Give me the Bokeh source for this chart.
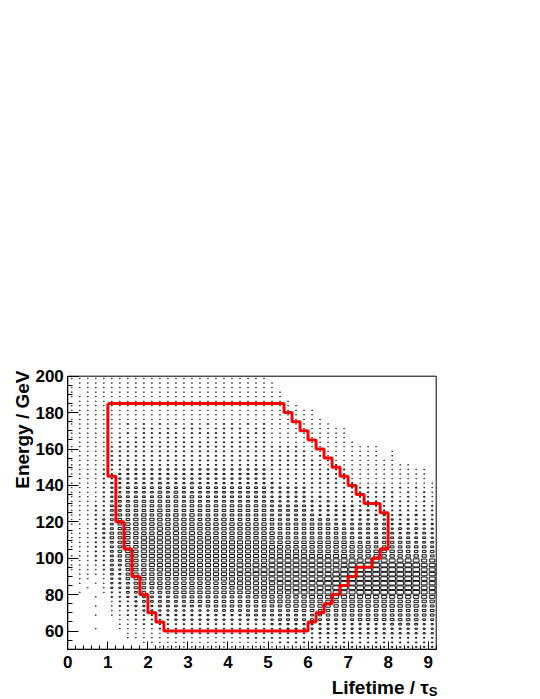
import math
from bokeh.plotting import figure
from bokeh.models import Range1d, FixedTicker, Label
from bokeh.embed import file_html
from bokeh.resources import INLINE

# ---------------- data ----------------
X_MIN, X_MAX, X_BINS = 0.0, 9.2, 46
Y_MIN, Y_MAX, Y_BINS = 50.0, 200.0, 60

# box-size level (0..9) per bin; rows from top (E~199 GeV) to bottom (E~51 GeV)
levels = [
    "1111111111 1111111111 1111100000 0000000000 000000",
    "0111111111 1111111111 1111110000 0000000000 000000",
    "1111111111 1111111111 1111110000 0000000000 000000",
    "1011111111 1111111111 1111111000 0000000000 000000",
    "1111111111 1111111111 1111111000 0000000000 000000",
    "0111111111 1111111111 1111111100 0000000000 000000",
    "1111111111 1111111111 1111111110 0000000000 000000",
    "1111111111 1111111111 1111111111 1000000000 000000",
    "0111111111 1111111111 1111111111 1000000000 000000",
    "1111111111 1111111111 1111111111 1100000000 000000",
    "1111111212 1212121212 2121211111 1110000000 000000",
    "0111111122 2121222122 2212211111 1111100000 000000",
    "1111111212 2222122222 1222211111 1111100000 000000",
    "1111112122 2122221222 2221211111 1111100000 000000",
    "0111112222 2222222222 2222211111 1111110000 000000",
    "1111122222 2222222222 2222222221 1111111110 000000",
    "1111122222 2222222222 2222222222 1111111110 100000",
    "0111122222 2222222222 2222222222 1211111110 100000",
    "1111122222 2222222222 2222222222 2121111111 100000",
    "1111122222 2222222222 2222222222 2212111111 111000",
    "1111222333 3333333333 3333322222 2222211111 111110",
    "1111223333 3333333333 3333322222 2222211111 111110",
    "0111223333 3333333333 3333322222 2222211111 111110",
    "1111233333 3433343333 3333332222 2222221111 111111",
    "1111233444 4444444444 4444433333 2222222222 121211",
    "1111233444 4545444444 4444433333 2222222222 212121",
    "1111234444 4545454444 4444433333 2322222222 212121",
    "1111234455 5555454444 4444443333 3232222222 222121",
    "1112244555 5555555555 5555544444 3333332222 222222",
    "1112244555 5655555555 5555544444 3333333322 222222",
    "1112245556 5656565555 5555544444 4333333333 232322",
    "1112345566 6666665656 5555554444 4443333333 323232",
    "1112345666 6666666666 6666655555 5554444444 333333",
    "0112345666 6767666666 6666655555 5555444444 343433",
    "1112355666 6767676666 6666665555 5555544444 434343",
    "1112355667 7777676766 6666666555 5555554444 444443",
    "1112245667 7777777777 7777766666 6666655555 555444",
    "1112245667 7777777777 7777777666 6666666655 555554",
    "0112245667 7777777777 7777777777 6666666666 665555",
    "1112245667 7777777777 7777777777 7777766666 666665",
    "1112244666 7777777777 7777788888 8888888888 888877",
    "1111244666 7777777777 7878788888 8888899999 999988",
    "1111243566 6777777777 7878888888 8888999999 999988",
    "0111143566 6677777777 7788888888 8889999999 999988",
    "0110133556 6666666777 7777788888 8899999999 999988",
    "0101133455 6666666666 7777778888 8999999999 999988",
    "0010133455 5666666666 6777777888 8889999999 999988",
    "0100122445 5556666666 6667777788 8888889999 999988",
    "0001022334 4445555555 5556666666 7777777777 777777",
    "0000012234 4444455555 5555566666 6666666666 666666",
    "0001012233 3444444555 5555555666 6666666666 666655",
    "0000011223 3333333344 4444444455 5555555555 555555",
    "0001011222 2333333333 3344444444 4455555555 555555",
    "0000001122 2223333333 3333334444 4444445555 555544",
    "0000001112 2222222222 2222233333 3333333333 444433",
    "0001001111 1222222222 2222222333 3333333333 333333",
    "0000000111 1112222222 2222222222 2333333333 333333",
    "0000000111 1111111111 1122222222 2222222222 222222",
    "0000000001 1111111111 1111112222 2222222222 222222",
    "0000000000 0111111111 1111111111 2222222222 222222",
]

# selection region (red): per 0.2-wide lifetime bin, lower / upper energy cut
cut_x_edges = [1.0, 1.2, 1.4, 1.6, 1.8, 2.0, 2.2, 2.4, 2.6, 2.8, 3.0, 3.2, 3.4,
               3.6, 3.8, 4.0, 4.2, 4.4, 4.6, 4.8, 5.0, 5.2, 5.4, 5.6, 5.8, 6.0,
               6.2, 6.4, 6.6, 6.8, 7.0, 7.2, 7.4, 7.6, 7.8, 8.0]
cut_e_low = [145, 120, 105, 90, 80, 70, 65, 60, 60, 60, 60, 60, 60, 60, 60, 60,
             60, 60, 60, 60, 60, 60, 60, 60, 60, 65, 70, 75, 80, 85, 90, 95, 95,
             100, 105]
cut_e_high = [185, 185, 185, 185, 185, 185, 185, 185, 185, 185, 185, 185, 185,
              185, 185, 185, 185, 185, 185, 185, 185, 185, 180, 175, 170, 165,
              160, 155, 150, 145, 140, 135, 130, 130, 125]

x_ticks = [0, 1, 2, 3, 4, 5, 6, 7, 8, 9]
y_ticks = [60, 80, 100, 120, 140, 160, 180, 200]
x_title = "Lifetime / \u03c4"
x_title_sub = "S"
y_title = "Energy / GeV"

# ---------------- layout (pixels of the page) ----------------
W, H = 540, 699
FRAME_L, FRAME_R = 67.3, 435.7
FRAME_T, FRAME_B = 375.7, 648.7
sx_ = (FRAME_R - FRAME_L) / (X_MAX - X_MIN)
sy_ = (FRAME_B - FRAME_T) / (Y_MAX - Y_MIN)
XL = X_MIN - FRAME_L / sx_
XR = XL + W / sx_
YT = Y_MAX + FRAME_T / sy_
YB = YT - H / sy_


def px2x(px):
    return XL + px / sx_


def py2y(py):
    return YT - py / sy_


p = figure(width=W, height=H, x_range=Range1d(XL, XR), y_range=Range1d(YB, YT),
           output_backend="svg", toolbar_location=None,
           min_border_left=0, min_border_right=0, min_border_top=0,
           min_border_bottom=0)
p.title.visible = False
p.background_fill_color = "white"
p.border_fill_color = "white"
p.outline_line_color = None
p.xgrid.grid_line_color = None
p.ygrid.grid_line_color = None

# boxes
bw = (X_MAX - X_MIN) / X_BINS
bh = (Y_MAX - Y_MIN) / Y_BINS
xs, ys, ws, hs = [], [], [], []
ny = len(levels)
for i, row in enumerate(levels):
    row = row.replace(" ", "").ljust(X_BINS, "0")[:X_BINS]
    r = ny - 1 - i
    yc = Y_MIN + (r + 0.5) * bh
    for c, ch in enumerate(row):
        lv = int(ch)
        if lv == 0:
            continue
        f = lv / 11.0
        xs.append(X_MIN + (c + 0.5) * bw)
        ys.append(yc)
        ws.append(f * bw)
        hs.append(f * bh)
p.rect(x=xs, y=ys, width=ws, height=hs, fill_color=None,
       line_color="#111111", line_width=1)

# staircase outline of the cut region
px, py = [], []
n = len(cut_e_high)
for k in range(n):
    px += [cut_x_edges[k], cut_x_edges[k + 1]]
    py += [cut_e_high[k], cut_e_high[k]]
for k in range(n - 1, -1, -1):
    px += [cut_x_edges[k + 1], cut_x_edges[k]]
    py += [cut_e_low[k], cut_e_low[k]]
px.append(px[0])
py.append(py[0])
p.line(px, py, line_color="#ff0000", line_width=3)

# histogram frame
p.quad(left=[X_MIN], right=[X_MAX], bottom=[Y_MIN], top=[Y_MAX],
       fill_color=None, line_color="black", line_width=1)

FONT = "Liberation Sans"
for ax in (p.xaxis[0], p.yaxis[0]):
    ax.axis_line_color = "black"
    ax.major_tick_line_color = "black"
    ax.minor_tick_line_color = "black"
    ax.major_tick_out = 0
    ax.minor_tick_out = 0
    ax.major_label_text_font = FONT
    ax.major_label_text_font_style = "bold"
    ax.major_label_text_font_size = "17px"
    ax.major_label_text_color = "black"

p.xaxis.fixed_location = Y_MIN
p.xaxis.bounds = (X_MIN, X_MAX)
p.xaxis.ticker = FixedTicker(ticks=x_ticks,
                             minor_ticks=[round(0.2 * k, 1) for k in range(47)])
p.xaxis.major_tick_in = 8
p.xaxis.minor_tick_in = 4
p.xaxis.major_label_standoff = 7

p.yaxis.fixed_location = X_MIN
p.yaxis.bounds = (Y_MIN, Y_MAX)
p.yaxis.ticker = FixedTicker(ticks=y_ticks,
                             minor_ticks=list(range(50, 201, 5)))
p.yaxis.major_tick_in = 11
p.yaxis.minor_tick_in = 5
p.yaxis.major_label_standoff = 4

p.add_layout(Label(x=px2x(22), y=py2y(370), text=y_title, angle=math.pi / 2,
                   text_align="right", text_baseline="alphabetic",
                   text_font=FONT, text_font_style="bold",
                   text_font_size="19px", text_color="black"))
p.add_layout(Label(x=px2x(428.3), y=py2y(687), text=x_title,
                   text_align="right", text_baseline="alphabetic",
                   text_font=FONT, text_font_style="bold",
                   text_font_size="19px", text_color="black"))
p.add_layout(Label(x=px2x(428.3), y=py2y(691), text=x_title_sub,
                   text_align="left", text_baseline="alphabetic",
                   text_font=FONT, text_font_style="bold",
                   text_font_size="13px", text_color="black"))

open("out.html", "w").write(file_html(p, INLINE))
